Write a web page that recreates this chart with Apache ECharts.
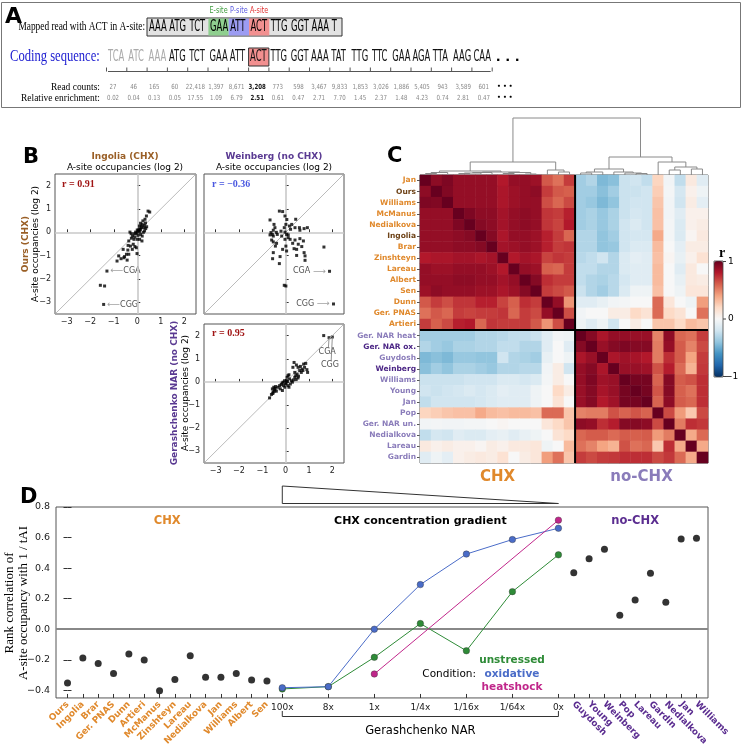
<!DOCTYPE html>
<html><head><meta charset="utf-8">
<script src="https://cdn.jsdelivr.net/npm/echarts@6/dist/echarts.min.js"></script>
<style>html,body{margin:0;padding:0;background:#fff}#c{width:743px;height:748px}</style>
</head><body><div id="c"></div><script>
// ---------------- DATA ----------------
// Panel A
const readCodons = ['AAA','ATG','TCT','GAA','ATT','ACT','TTG','GGT','AAA','T'];
const siteLabels = ['E-site','P-site','A-site'];
const siteCodonIdx = [3,4,5];
const codingCodons = ['TCA','ATC','AAA','ATG','TCT','GAA','ATT','ACT','TTG','GGT','AAA','TAT','TTG','TTC','GAA','AGA','TTA','AAG','CAA'];
const readCounts = ['27','46','165','60','22,418','1,397','8,671','3,208','773','598','3,467','9,833','1,853','3,026','1,886','5,405','943','3,589','601'];
const relEnrichment = ['0.02','0.04','0.13','0.05','17.55','1.09','6.79','2.51','0.61','0.47','2.71','7.70','1.45','2.37','1.48','4.23','0.74','2.81','0.47'];
const aSiteIndex = 7;

// Panel B (log2 A-site occupancies)
const bTicks = [-3,-2,-1,0,1,2];
const ingoliaPts = [[0.46,0.91],[0.53,0.87],[0.39,0.70],[0.33,0.56],[0.21,0.34],[0.14,0.39],[0.09,0.27],[0.19,0.20],[0.29,0.20],[0.36,0.16],[0.40,0.24],[0.14,0.13],[0.07,0.06],[0.00,0.00],[-0.07,0.01],[-0.14,-0.06],[-0.26,-0.06],[-0.31,0.01],[-0.20,-0.16],[-0.36,-0.37],[-0.14,-0.30],[0.00,-0.30],[0.10,-0.30],[0.20,-0.37],[-0.29,-0.59],[-0.10,-0.61],[-0.04,-0.66],[-0.40,-0.76],[-0.60,-0.73],[-0.46,-0.94],[-0.36,-0.94],[-0.01,-0.91],[-0.79,-1.01],[-0.69,-1.13],[-0.86,-1.23],[-0.43,-1.19],[-0.57,-1.09],[-1.57,-2.27],[-1.39,-2.30],[0.14,-0.09],[0.26,0.00],[0.31,0.06],[-0.10,-0.20],[0.03,-0.13],[0.21,-0.16],[0.11,0.04],[-0.17,-0.51],[-0.39,-0.56],[-0.21,-0.73],[-0.54,-1.04],[0.24,0.49],[0.17,0.27],[0.05,0.10],[-0.05,-0.05],[0.30,0.30],[-0.25,-0.25],[0.10,0.15],[0.35,0.40],[0.00,0.10]];
const ingoliaCGA = [-1.29,-1.66], ingoliaCGG = [-1.43,-3.09];
const weinbergPts = [[-0.27,0.91],[-0.13,0.89],[-0.03,0.70],[-0.67,0.53],[-0.50,0.34],[-0.46,0.20],[-0.53,0.09],[-0.63,-0.01],[-0.57,-0.09],[-0.53,-0.16],[-0.60,-0.33],[-0.53,-0.41],[-0.39,-0.47],[-0.44,-0.59],[-0.53,-0.87],[-0.56,-1.13],[-0.27,-1.34],[-0.24,-1.04],[-0.13,-0.73],[0.04,-0.80],[0.01,-0.59],[-0.03,-0.30],[0.04,-0.09],[0.11,-0.11],[-0.03,0.01],[-0.06,0.20],[0.01,0.34],[0.16,0.27],[0.21,0.13],[0.26,0.34],[0.43,0.56],[0.40,0.20],[0.59,0.20],[0.61,0.09],[0.79,0.16],[0.93,0.20],[0.19,-0.30],[0.40,-0.33],[0.54,-0.51],[0.36,-0.70],[0.47,-0.73],[0.69,-0.61],[0.76,-0.37],[0.79,-0.87],[0.83,-1.01],[0.83,-1.20],[0.47,-0.99],[0.61,-0.27],[1.64,-0.63],[-0.06,-2.27],[0.01,-2.30],[0.30,-0.47],[0.11,-0.23],[-0.17,-0.16],[-0.36,-0.09],[-0.67,-0.11],[-0.20,0.05],[0.05,0.55],[-0.40,0.00]];
const weinbergCGA = [1.88,-1.67], weinbergCGG = [2.05,-3.07];
const gerPts = [[-0.69,-0.69],[-0.61,-0.54],[-0.54,-0.44],[-0.47,-0.34],[-0.57,-0.30],[-0.40,-0.40],[-0.51,-0.23],[-0.43,-0.20],[-0.33,-0.23],[-0.26,-0.16],[-0.19,-0.11],[-0.11,-0.01],[-0.09,-0.16],[-0.04,-0.23],[0.00,-0.09],[0.03,0.06],[0.06,0.20],[0.10,0.27],[0.14,0.31],[0.17,0.13],[0.10,-0.16],[0.14,-0.23],[0.20,-0.09],[0.29,-0.01],[0.34,0.09],[0.39,0.20],[0.43,0.27],[0.49,0.34],[0.53,0.17],[0.36,0.84],[0.46,0.73],[0.53,0.63],[0.60,0.49],[0.67,0.41],[0.74,0.49],[0.81,0.63],[0.77,0.77],[0.86,0.80],[0.91,0.53],[0.94,0.41],[0.63,0.67],[0.31,0.63],[0.39,0.41],[-0.14,-0.37],[-0.23,-0.30],[-0.55,-0.50],[-0.50,-0.40],[-0.45,-0.28],[-0.05,0.05],[0.02,-0.05],[0.08,0.02],[0.45,0.10],[0.55,0.25],[0.70,0.55],[0.25,0.05],[-0.15,-0.05],[1.63,2.00]];
const gerCGA = [1.86,1.91], gerCGG = [2.00,1.94];
const gerCGAText = [1.78,1.28], gerCGGText = [1.9,0.72];
const rValues = ['r = 0.91','r = -0.36','r = 0.95'];

// Panel C
const heatNames = ['Jan','Ours','Williams','McManus','Nedialkova','Ingolia','Brar','Zinshteyn','Lareau','Albert','Sen','Dunn','Ger. PNAS','Artieri','Ger. NAR heat','Ger. NAR ox.','Guydosh','Weinberg','Williams','Young','Jan','Pop','Ger. NAR un.','Nedialkova','Lareau','Gardin'];
const heatNameStyle = [0,1,0,0,0,1,0,0,0,0,0,0,0,0,2,3,2,3,2,2,2,2,2,2,2,2];
const corrMatrix = [
[1.00,0.90,0.94,0.88,0.88,0.88,0.88,0.80,0.88,0.88,0.86,0.62,0.55,0.70,-0.35,-0.30,-0.45,-0.42,-0.22,-0.20,-0.25,0.22,-0.03,-0.25,0.10,-0.12],
[0.90,1.00,0.93,0.88,0.88,0.88,0.88,0.82,0.86,0.88,0.90,0.70,0.62,0.60,-0.35,-0.35,-0.42,-0.35,-0.22,-0.22,-0.20,0.25,-0.02,-0.18,0.05,-0.05],
[0.94,0.93,1.00,0.88,0.88,0.88,0.88,0.82,0.86,0.88,0.88,0.65,0.58,0.66,-0.35,-0.38,-0.45,-0.40,-0.22,-0.20,-0.20,0.28,-0.03,-0.20,0.08,-0.10],
[0.88,0.88,0.88,1.00,0.94,0.90,0.90,0.84,0.88,0.90,0.88,0.72,0.70,0.78,-0.35,-0.32,-0.38,-0.32,-0.22,-0.18,-0.20,0.30,-0.03,-0.12,0.05,0.05],
[0.88,0.88,0.88,0.94,1.00,0.92,0.90,0.84,0.88,0.90,0.88,0.72,0.68,0.80,-0.35,-0.32,-0.38,-0.32,-0.20,-0.15,-0.20,0.30,-0.02,-0.15,0.05,0.08],
[0.88,0.88,0.88,0.90,0.92,1.00,0.92,0.82,0.88,0.88,0.86,0.78,0.70,0.58,-0.30,-0.30,-0.40,-0.35,-0.20,-0.18,-0.18,0.38,-0.02,-0.15,0.02,0.10],
[0.88,0.88,0.88,0.90,0.90,0.92,1.00,0.84,0.86,0.88,0.86,0.78,0.70,0.72,-0.30,-0.30,-0.40,-0.38,-0.20,-0.15,-0.15,0.32,0.00,-0.10,0.08,0.08],
[0.80,0.82,0.82,0.84,0.84,0.82,0.84,1.00,0.80,0.84,0.82,0.68,0.72,0.70,-0.28,-0.25,-0.20,-0.30,-0.15,-0.10,-0.12,0.30,0.02,-0.08,0.05,0.15],
[0.88,0.86,0.86,0.88,0.88,0.88,0.86,0.80,1.00,0.88,0.86,0.60,0.58,0.70,-0.25,-0.25,-0.30,-0.30,-0.15,-0.12,-0.12,0.32,0.00,-0.12,0.10,0.00],
[0.88,0.88,0.88,0.90,0.90,0.88,0.88,0.84,0.88,1.00,0.92,0.74,0.70,0.70,-0.25,-0.30,-0.32,-0.28,-0.18,-0.12,-0.12,0.32,0.00,-0.08,0.10,0.08],
[0.86,0.90,0.88,0.88,0.88,0.86,0.86,0.82,0.86,0.92,1.00,0.70,0.66,0.62,-0.22,-0.30,-0.35,-0.28,-0.15,-0.05,-0.05,0.30,0.00,-0.05,0.12,0.12],
[0.62,0.70,0.65,0.72,0.72,0.78,0.78,0.68,0.60,0.74,0.70,1.00,0.88,0.45,-0.12,-0.12,-0.08,-0.03,-0.02,0.00,0.00,0.57,0.12,0.00,-0.05,0.42],
[0.55,0.62,0.58,0.70,0.68,0.70,0.70,0.72,0.58,0.70,0.66,0.88,1.00,0.65,-0.03,0.00,0.00,0.08,0.08,0.20,0.14,0.57,0.20,0.14,0.00,0.55],
[0.70,0.60,0.66,0.78,0.80,0.58,0.72,0.70,0.70,0.70,0.62,0.45,0.65,1.00,-0.05,-0.12,-0.05,-0.20,0.00,0.08,0.00,0.28,0.28,0.20,0.32,0.28],
[-0.35,-0.35,-0.35,-0.35,-0.35,-0.30,-0.30,-0.28,-0.25,-0.25,-0.22,-0.12,-0.03,-0.05,1.00,0.92,0.82,0.88,0.88,0.87,0.87,0.50,0.90,0.58,0.55,0.70],
[-0.30,-0.35,-0.38,-0.32,-0.32,-0.30,-0.30,-0.25,-0.25,-0.30,-0.30,-0.12,0.00,-0.12,0.92,1.00,0.87,0.92,0.94,0.92,0.92,0.52,0.88,0.61,0.50,0.66],
[-0.45,-0.42,-0.45,-0.38,-0.38,-0.40,-0.40,-0.20,-0.30,-0.32,-0.35,-0.08,0.00,-0.05,0.82,0.87,1.00,0.82,0.85,0.83,0.80,0.52,0.74,0.61,0.40,0.70],
[-0.42,-0.35,-0.40,-0.32,-0.32,-0.35,-0.38,-0.30,-0.30,-0.28,-0.28,-0.03,0.08,-0.20,0.88,0.92,0.82,1.00,0.87,0.87,0.85,0.64,0.79,0.57,0.35,0.71],
[-0.22,-0.22,-0.22,-0.22,-0.20,-0.20,-0.20,-0.15,-0.15,-0.18,-0.15,-0.02,0.08,0.00,0.88,0.94,0.85,0.87,1.00,0.96,0.96,0.59,0.92,0.61,0.64,0.74],
[-0.20,-0.22,-0.20,-0.18,-0.15,-0.18,-0.15,-0.10,-0.12,-0.12,-0.05,0.00,0.20,0.08,0.87,0.92,0.83,0.87,0.96,1.00,0.96,0.63,0.92,0.60,0.55,0.74],
[-0.25,-0.20,-0.20,-0.20,-0.20,-0.18,-0.15,-0.12,-0.12,-0.12,-0.05,0.00,0.14,0.00,0.87,0.92,0.80,0.85,0.96,0.96,1.00,0.59,0.90,0.61,0.58,0.74],
[0.22,0.25,0.28,0.30,0.30,0.38,0.32,0.30,0.32,0.32,0.30,0.57,0.57,0.28,0.50,0.52,0.52,0.64,0.59,0.63,0.59,1.00,0.66,0.43,0.27,0.66],
[-0.03,-0.02,-0.03,-0.03,-0.02,-0.02,0.00,0.02,0.00,0.00,0.00,0.12,0.20,0.28,0.90,0.88,0.74,0.79,0.92,0.92,0.90,0.66,1.00,0.52,0.74,0.71],
[-0.25,-0.18,-0.20,-0.12,-0.15,-0.15,-0.10,-0.08,-0.12,-0.08,-0.05,0.00,0.14,0.20,0.58,0.61,0.61,0.57,0.61,0.60,0.61,0.43,0.52,1.00,0.38,0.57],
[0.10,0.05,0.08,0.05,0.05,0.02,0.08,0.05,0.10,0.10,0.12,-0.05,0.00,0.32,0.55,0.50,0.40,0.35,0.64,0.55,0.58,0.27,0.74,0.38,1.00,0.38],
[-0.12,-0.05,-0.10,0.05,0.08,0.10,0.08,0.15,0.00,0.08,0.12,0.42,0.55,0.28,0.70,0.66,0.70,0.71,0.74,0.74,0.74,0.66,0.71,0.57,0.38,1.00]
];
// dendrogram merges: [child, child, height]; leaves 0..25, merged nodes 26..
const dendroMerges = [[0,1,1.5],[26,2,2.5],[3,4,1.5],[28,5,2],[29,6,2.5],[7,8,1.5],[9,10,1],[31,32,2.5],[30,33,3],[27,34,4],[12,13,3],[11,36,5],[35,37,13],
  [14,15,2],[39,16,3],[19,20,1.5],[18,41,2],[17,42,3],[40,43,6],[22,23,5],[24,25,6],[45,46,8],[21,47,13],[44,48,18],[38,49,57]];

// Panel D
const chxNames = ['Ours','Ingolia','Brar','Ger. PNAS','Dunn','Artieri','McManus','Zinshteyn','Lareau','Nedialkova','Jan','Williams','Albert','Sen'];
const chxCorr = [-0.352,-0.188,-0.225,-0.290,-0.162,-0.201,-0.402,-0.329,-0.173,-0.314,-0.314,-0.290,-0.333,-0.339];
const gradLabels = ['100x','8x','1x','1/4x','1/16x','1/64x','0x'];
const unstressed = [-0.391,-0.376,-0.184,0.037,-0.141,0.246,0.487];
const oxidative = [-0.383,-0.376,0.000,0.292,0.492,0.587,0.661];
const heatshock = [null,null,-0.293,null,null,null,0.714];
const noChxNames = ['Guydosh','Young','Weinberg','Pop','Lareau','Gardin','Nedialkova','Jan','Williams'];
const noChxCorr = [0.370,0.461,0.524,0.091,0.191,0.367,0.176,0.591,0.596];
const dYTicks = [-0.4,-0.2,0.0,0.2,0.4,0.6,0.8];

// ---------------- STYLE ----------------
const SANS = '"DejaVu Sans", sans-serif';
const SERIF = '"Liberation Serif", "DejaVu Serif", serif';
const ORANGE = '#e0892c', BROWN = '#6e4318', LPURP = '#8a7cba', DPURP = '#4b2585', DPURP2 = '#5b2d90';
const BTITLE_BROWN = '#9a5f26', BTITLE_PURP = '#5a3a92';
const RDBU = ['#053061','#2166ac','#4393c3','#92c5de','#d1e5f0','#f7f7f7','#fddbc7','#f4a582','#d6604d','#b2182b','#67001f'];
const minus = v => String(v).replace('-', '\u2212');

function T(x, y, text, o) {
  o = o || {};
  return {type:'text', x:x, y:y, scaleX:o.sx||1, rotation:o.rot||0, z:50, silent:true,
    style:{text:text, fill:o.color||'#000', font:(o.weight||'normal')+' '+o.size+'px '+(o.family||SANS),
      textAlign:o.align||'left', textVerticalAlign:o.va||'middle', align:o.align||'left', verticalAlign:o.va||'middle'}};
}
function L(x1,y1,x2,y2,color,w){return {type:'line', z:40, silent:true, shape:{x1:x1,y1:y1,x2:x2,y2:y2}, style:{stroke:color||'#000', lineWidth:w||1}};}
function R(x,y,w,h,fill,stroke,lw){return {type:'rect', z:30, silent:true, shape:{x:x,y:y,width:w,height:h}, style:{fill:fill||'none', stroke:stroke||'none', lineWidth:lw||1}};}

const chart = echarts.init(document.getElementById('c'), null, {renderer:'canvas'});

// ---------------- AXES ----------------
function bX(g, show){return {type:'value', gridIndex:g, min:-3.5, max:2.5, axisLine:{show:false}, splitLine:{show:false},
  axisTick:{show:true, inside:true, length:3, lineStyle:{color:'#333'}, customValues:bTicks},
  axisLabel:{show:show, customValues:bTicks, fontSize:8, color:'#222', margin:4, fontFamily:SANS, formatter:v=>minus(v)}};}
const bY = bX;
const posChx = chxNames.map((n,i)=>i);
const posGrad = gradLabels.map((n,j)=>14+3*j);
const posNo = noChxNames.map((n,k)=>33+k);
function dX(custom, names, rot, color, weight){
  return {type:'value', gridIndex:5, min:-0.75, max:41.75, position:'bottom', axisLine:{show:false, onZero:false}, splitLine:{show:false},
    axisTick:{show:true, inside:true, length:4, lineStyle:{color:'#333'}, customValues:custom},
    axisLabel:{customValues:custom, rotate:rot, fontSize:9, fontWeight:weight, color:color, margin:5, fontFamily:SANS,
      formatter:v=>names[custom.indexOf(v)]}};
}

const xAxes = [bX(0,true), bX(1,false), bX(2,true),
  {type:'category', gridIndex:3, data:heatNames.map((n,i)=>String(i)), show:false},
  {type:'value', gridIndex:4, min:0, max:26, show:false},
  dX(posChx, chxNames, 45, ORANGE, 'bold'), dX(posGrad, gradLabels, 0, '#222', 'normal'), dX(posNo, noChxNames, -45, DPURP2, 'bold')];
const yAxes = [bY(0,true), bY(1,false), bY(2,true),
  {type:'category', gridIndex:3, inverse:true, data:heatNames.map((n,i)=>String(i)), axisLine:{show:false},
   axisTick:{show:true, length:3, alignWithLabel:true, lineStyle:{color:'#555'}},
   axisLabel:{interval:0, fontSize:7.5, fontWeight:'bold', margin:4, fontFamily:SANS,
     formatter:(v)=>heatNames[+v], color:(v)=>[ORANGE,BROWN,LPURP,DPURP][heatNameStyle[+v]]}},
  {type:'value', gridIndex:4, min:0, max:63, show:false},
  {type:'value', gridIndex:5, min:-0.45, max:0.8, position:'left', axisLine:{show:false}, splitLine:{show:false},
   axisTick:{show:true, inside:true, length:4, lineStyle:{color:'#333'}, customValues:dYTicks},
   axisLabel:{customValues:dYTicks, fontSize:9.5, color:'#222', margin:6, fontFamily:SANS, formatter:v=>minus(v.toFixed(1))}},
  {type:'value', gridIndex:5, min:-0.45, max:0.8, position:'right', axisLine:{show:false}, splitLine:{show:false},
   axisTick:{show:true, inside:true, length:4, lineStyle:{color:'#333'}, customValues:dYTicks}, axisLabel:{show:false}}];

// ---------------- SERIES ----------------
const refLines = {silent:true, symbol:['none','none'], label:{show:false}, animation:false,
  data:[{xAxis:0, lineStyle:{color:'#c8c8c8', width:1.6, type:'solid'}},{yAxis:0, lineStyle:{color:'#c8c8c8', width:1.6, type:'solid'}},
        [{coord:[-3.5,-3.5], lineStyle:{color:'#aaa', width:0.8, type:'solid'}},{coord:[2.5,2.5]}]]};
function bScatter(idx, pts){return {type:'scatter', xAxisIndex:idx, yAxisIndex:idx, data:pts, symbol:'rect', symbolSize:3,
  itemStyle:{color:'#000'}, markLine:refLines, z:5};}
const annRich = {a:{color:'#888', fontSize:9, fontFamily:SANS}, b:{color:'#222', fontSize:8, fontFamily:SANS}};
function ann(val, text, pos){return {value:val, label:{show:true, position:pos, distance:2, formatter:text, rich:annRich}};}

const heatData = [];
corrMatrix.forEach((row,i)=>row.forEach((v,j)=>heatData.push([j,i,v])));

// dendrogram
const nodeX = heatNames.map((n,i)=>i+0.5), nodeH = heatNames.map(()=>0);
const dendroLines = [];
dendroMerges.forEach(m=>{
  const a=m[0], b=m[1], h=m[2];
  dendroLines.push({coords:[[nodeX[a],nodeH[a]],[nodeX[a],h],[nodeX[b],h],[nodeX[b],nodeH[b]]]});
  nodeX.push((nodeX[a]+nodeX[b])/2); nodeH.push(h);
});

const gColors = {u:'#2e8b37', o:'#4a6cc8', h:'#c0268a'};
function gradSeries(vals, color, z){
  const d = []; vals.forEach((v,j)=>{ if(v!==null) d.push([posGrad[j], v]); });
  return {type:'line', xAxisIndex:5, yAxisIndex:5, data:d, symbol:'circle', symbolSize:6.5, z:z,
    lineStyle:{color:color, width:1}, itemStyle:{color:color, borderColor:'#333', borderWidth:0.4}};
}

const series = [
  bScatter(0, ingoliaPts),
  {type:'scatter', xAxisIndex:0, yAxisIndex:0, symbol:'rect', symbolSize:3, itemStyle:{color:'#000'},
   data:[ann(ingoliaCGA,'{a|⟵}{b|CGA}','right'), ann(ingoliaCGG,'{a|⟵}{b|CGG}','right')]},
  bScatter(1, weinbergPts),
  {type:'scatter', xAxisIndex:1, yAxisIndex:1, symbol:'rect', symbolSize:3, itemStyle:{color:'#000'},
   data:[ann(weinbergCGA,'{b|CGA}{a| ⟶}','left'), ann(weinbergCGG,'{b|CGG}{a| ⟶}','left')]},
  bScatter(2, gerPts),
  {type:'scatter', xAxisIndex:2, yAxisIndex:2, symbol:'rect', symbolSize:3, itemStyle:{color:'#000'}, data:[gerCGA, gerCGG],
   markLine:{silent:true, symbol:['none','none'], label:{show:false}, lineStyle:{color:'#777', width:0.8, type:'solid'},
     data:[[{coord:[gerCGAText[0]+0.05, gerCGAText[1]+0.17]},{coord:gerCGA}],[{coord:[gerCGGText[0]+0.05, gerCGGText[1]+0.17]},{coord:gerCGG}]]}},
  {type:'scatter', xAxisIndex:2, yAxisIndex:2, symbolSize:0, silent:true,
   data:[{value:gerCGAText, label:{show:true, position:'inside', formatter:'CGA', color:'#222', fontSize:8, fontFamily:SANS}},
         {value:gerCGGText, label:{show:true, position:'inside', formatter:'CGG', color:'#222', fontSize:8, fontFamily:SANS}}]},
  {type:'heatmap', xAxisIndex:3, yAxisIndex:3, data:heatData, progressive:0, itemStyle:{borderWidth:0}},
  {type:'lines', coordinateSystem:'cartesian2d', xAxisIndex:4, yAxisIndex:4, polyline:true, silent:true,
   data:dendroLines, lineStyle:{color:'#8a8a8a', width:1, opacity:1}},
  {type:'scatter', xAxisIndex:5, yAxisIndex:5, data:chxCorr.map((v,i)=>[posChx[i],v]), symbolSize:7, itemStyle:{color:'#000'}, z:5,
   markLine:{silent:true, symbol:['none','none'], label:{show:false}, lineStyle:{color:'#888', width:2, type:'solid'}, data:[{yAxis:0}], z:1}},
  gradSeries(unstressed, gColors.u, 6),
  gradSeries(oxidative, gColors.o, 7),
  gradSeries(heatshock, gColors.h, 8),
  {type:'scatter', xAxisIndex:5, yAxisIndex:5, data:noChxCorr.map((v,k)=>[posNo[k],v]), symbolSize:7, itemStyle:{color:'#000'}, z:5}
];

const gridB = {show:true, borderColor:'#555', borderWidth:1, backgroundColor:'transparent'};
chart.setOption({
  animation:false,
  grid:[
    Object.assign({left:55, top:174, width:141, height:140}, gridB),
    Object.assign({left:204, top:174, width:140, height:140}, gridB),
    Object.assign({left:204, top:324, width:140, height:139}, gridB),
    {left:420, top:175, width:288, height:288, show:true, borderColor:'#444', borderWidth:1},
    {left:420, top:112, width:288, height:63},
    {left:56, top:507, width:652, height:192, show:true, borderColor:'#555', borderWidth:1}
  ],
  xAxis:xAxes, yAxis:yAxes,
  visualMap:{type:'continuous', min:-1, max:1, seriesIndex:7, inRange:{color:RDBU}, left:714, top:261,
    itemWidth:9, itemHeight:116, calculable:false, padding:0, showLabel:false, text:null, orient:'vertical'},
  series:series
});

// ---------------- GRAPHIC (text, panel A, decorations) ----------------
const G = [];
// Panel A
G.push(R(1.5,2.5,739,105,'none','#777',1));
G.push(T(5,17,'A',{size:22, weight:'bold'}));
G.push(T(145,27,'Mapped read with ACT in A-site:',{size:13, family:SERIF, align:'right', sx:0.72}));
const rdX0 = 149, rdStep = 20.3;
G.push(R(147,18,195,18,'#e2e2e2','#333',1));
const siteFill = ['#8fcf8f','#9c9cf2','#f29090'], siteText = ['#3a9a3a','#5a5ae0','#e03030'];
siteCodonIdx.forEach((ci,k)=>{
  G.push(R(rdX0+ci*rdStep-1.5,18.5,rdStep,17,siteFill[k],'none'));
  G.push(T(rdX0+ci*rdStep+rdStep/2-1.5,11,siteLabels[k],{size:9, color:siteText[k], align:'center', sx:0.72}));
});
readCodons.forEach((c,i)=>G.push(T(rdX0+i*rdStep,27,c,{size:15, sx:0.56})));
G.push(T(10,57,'Coding sequence:',{size:17, family:SERIF, color:'#1a1ad0', sx:0.74}));
const cdX0 = 108, cdStep = 20.3;
G.push(R(cdX0+aSiteIndex*cdStep-1.5,48,rdStep,18,'#f29090','#333',1));
codingCodons.forEach((c,i)=>G.push(T(cdX0+i*cdStep,57,c,{size:15, sx:0.56, color:i<3?'#aaaaaa':'#111'})));
G.push(T(cdX0+codingCodons.length*cdStep+2,58,'. . .',{size:13, weight:'bold'}));
G.push(L(cdX0, 71.5, cdX0+codingCodons.length*cdStep-3, 71.5, '#555', 1));
for(let i=0;i<=codingCodons.length;i++){ G.push(L(cdX0+i*cdStep-1.5, 67.5, cdX0+i*cdStep-1.5, 71.5, '#555', 1)); }
G.push(T(100,87,'Read counts:',{size:10.5, family:SERIF, align:'right', sx:0.9}));
G.push(T(100,98,'Relative enrichment:',{size:10.5, family:SERIF, align:'right', sx:0.9}));
readCounts.forEach((v,i)=>{
  const b = i===aSiteIndex;
  G.push(T(113+i*20.6,87,v,{size:7, align:'center', sx:0.78, color:b?'#111':'#888', weight:b?'bold':'normal'}));
  G.push(T(113+i*20.6,98,relEnrichment[i],{size:7, align:'center', sx:0.78, color:b?'#111':'#888', weight:b?'bold':'normal'}));
});
G.push(T(497,86,'• • •',{size:6, weight:'bold'}));
G.push(T(497,97,'• • •',{size:6, weight:'bold'}));

// Panel B
G.push(T(23,158,'B',{size:21, weight:'bold'}));
G.push(T(125,157,'Ingolia (CHX)',{size:9, weight:'bold', align:'center', color:BTITLE_BROWN}));
G.push(T(125,168,'A-site occupancies (log 2)',{size:9, align:'center'}));
G.push(T(274,157,'Weinberg (no CHX)',{size:9, weight:'bold', align:'center', color:BTITLE_PURP}));
G.push(T(274,168,'A-site occupancies (log 2)',{size:9, align:'center'}));
G.push(T(26,244,'Ours (CHX)',{size:9, weight:'bold', align:'center', color:BTITLE_BROWN, rot:Math.PI/2}));
G.push(T(36,244,'A-site occupancies (log 2)',{size:9, align:'center', rot:Math.PI/2}));
G.push(T(175,393,'Gerashchenko NAR (no CHX)',{size:9, weight:'bold', align:'center', color:BTITLE_PURP, rot:Math.PI/2}));
G.push(T(186,393,'A-site occupancies (log 2)',{size:9, align:'center', rot:Math.PI/2}));
G.push(T(62,184,rValues[0],{size:10, weight:'bold', family:SERIF, color:'#a01414'}));
G.push(T(212,184,minus(rValues[1]),{size:10, weight:'bold', family:SERIF, color:'#4a58e0'}));
G.push(T(212,333,rValues[2],{size:10, weight:'bold', family:SERIF, color:'#a01414'}));

// Panel C
G.push(T(387,157,'C',{size:21, weight:'bold'}));
const hx = 420, hy = 175, hs = 288, nH = heatNames.length, nChx = 14;
const sep = hs*nChx/nH;
G.push(L(hx+sep, hy, hx+sep, hy+hs, '#000', 2));
G.push(L(hx, hy+sep, hx+hs, hy+sep, '#000', 2));
G.push(T(hx+sep/2, 477,'CHX',{size:15, weight:'bold', align:'center', color:ORANGE}));
G.push(T(hx+sep+(hs-sep)/2, 477,'no-CHX',{size:15, weight:'bold', align:'center', color:LPURP}));
G.push(R(714,261,9,116,'none','#444',0.8));
G.push(T(722,253,'r',{size:14, weight:'bold', family:SERIF, align:'center'}));
G.push(L(723,261.5,726,261.5,'#444',1)); G.push(L(723,319,726,319,'#444',1)); G.push(L(723,376.5,726,376.5,'#444',1));
G.push(T(728,262,'1',{size:9})); G.push(T(728,319,'0',{size:9})); G.push(T(725,377,minus('-1'),{size:9}));

// Panel D
G.push(T(20,498,'D',{size:21, weight:'bold'}));
G.push(T(10,603,'Rank correlation of',{size:13, family:SERIF, align:'center', rot:Math.PI/2}));
G.push(T(23.5,603,'A-site occupancy with 1 / tAI',{size:13, family:SERIF, align:'center', rot:Math.PI/2}));
const gx1 = chart.convertToPixel({xAxisIndex:5}, posGrad[0]);
const gx2 = chart.convertToPixel({xAxisIndex:5}, posGrad[posGrad.length-1]);
const cx1 = chart.convertToPixel({xAxisIndex:5}, posChx[0]);
const cx2 = chart.convertToPixel({xAxisIndex:5}, posChx[posChx.length-1]);
const nx1 = chart.convertToPixel({xAxisIndex:5}, posNo[0]);
const nx2 = chart.convertToPixel({xAxisIndex:5}, posNo[posNo.length-1]);
G.push({type:'polygon', z:40, silent:true, shape:{points:[[gx1,486],[gx2,503.5],[gx1,503.5]]}, style:{fill:'none', stroke:'#333', lineWidth:1}});
G.push(L(gx1,716.5,gx2,716.5,'#333',1)); G.push(L(gx1,711,gx1,716.5,'#333',1)); G.push(L(gx2,711,gx2,716.5,'#333',1));
G.push(T((gx1+gx2)/2,731,'Gerashchenko NAR',{size:11.5, align:'center'}));
G.push(T((cx1+cx2)/2,521,'CHX',{size:11.5, weight:'bold', align:'center', color:ORANGE}));
G.push(T((gx1+gx2)/2,521,'CHX concentration gradient',{size:11, weight:'bold', align:'center'}));
G.push(T((nx1+nx2)/2,521,'no-CHX',{size:11.5, weight:'bold', align:'center', color:DPURP2}));
G.push(T(476,674,'Condition:',{size:10.5, align:'right'}));
G.push(T(512,660.5,'unstressed',{size:10.5, weight:'bold', align:'center', color:gColors.u}));
G.push(T(512,674,'oxidative',{size:10.5, weight:'bold', align:'center', color:gColors.o}));
G.push(T(512,687,'heatshock',{size:10.5, weight:'bold', align:'center', color:gColors.h}));

chart.setOption({graphic:{elements:G}});
</script></body></html>
